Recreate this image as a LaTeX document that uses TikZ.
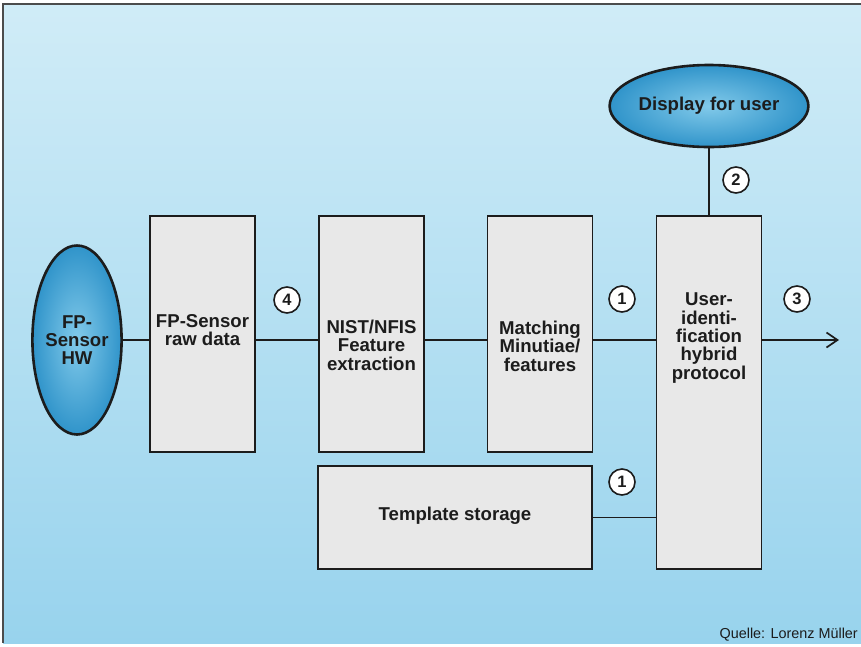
\documentclass[tikz,border=0pt]{standalone}
\usepackage{fontspec}
\setmainfont{Liberation Sans}
\usetikzlibrary{shapes.geometric,arrows.meta}

\definecolor{bgtop}{RGB}{208,236,247}
\definecolor{bgbottom}{RGB}{152,211,237}
\definecolor{boxgray}{RGB}{232,232,232}
\definecolor{ovalin}{RGB}{130,202,234}
\definecolor{ovalout}{RGB}{48,148,202}
\definecolor{inkline}{RGB}{28,28,28}

\begin{document}
\begin{tikzpicture}[
      x=1pt, y=-1pt,
      every node/.style={text=inkline},
      stage/.style={rectangle, draw=inkline, line width=1.5pt, fill=boxgray, minimum width=105pt, minimum height=236pt, inner sep=0pt},
      oval/.style={ellipse, draw=inkline, line width=2.6pt, inner color=ovalin, outer color=ovalout, inner sep=0pt, align=center, font=\bfseries\fontsize{18.6}{18.4}\selectfont},
      caption/.style={align=center, font=\bfseries\fontsize{18.6}{18.4}\selectfont},
      num/.style={circle, draw=inkline, line width=1.6pt, fill=white, inner sep=0pt, minimum size=26pt, font=\bfseries\fontsize{16.5}{16.5}\selectfont},
      wire/.style={draw=inkline, line width=1.7pt}
      ]

      \useasboundingbox (0,0) rectangle (861,646);
      \clip (0,0) rectangle (861,646);
      \shade[top color=bgtop, bottom color=bgbottom] (3,4) rectangle (861,643);
      \draw[line width=1.2pt, black!70] (861,4) -- (3,4) -- (3,643);

      \node[oval, minimum width=82pt, minimum height=189pt] (sensor) at (77,340) {FP-\\Sensor\\HW};
      \node[oval, minimum width=188pt, minimum height=82pt] (display) at (709,106) {Display for user};

      \node[stage] (rawdata) at (202.5,334) {};
      \node[stage] (nist) at (371.5,334) {};
      \node[stage] (matching) at (540,334) {};
      \node[stage, minimum height=353pt] (userid) at (709,392.5) {};
      \node[stage, minimum width=274pt, minimum height=103pt] (template) at (455,517.5) {};

      %box texts
      \node[caption] (rawtext) at (202.5,330) {FP-Sensor\\raw data};
      \node[caption] (nisttext) at (371.5,345) {NIST/NFIS\\Feature\\extraction};
      \node[caption] (matchtext) at (540,346) {Matching\\Minutiae/\\features};
      \node[caption] (useridtext) at (709,338) {User-\\identi-\\fication\\hybrid\\protocol};
      \node[caption] (templatetext) at (455,516) {Template storage};

      %main line
      \path[wire] (sensor.east) -- (sensor.east -| rawdata.west);
      \path[wire] (rawdata.east |- sensor) -- (nist.west |- sensor);
      \path[wire] (nist.east |- sensor) -- (matching.west |- sensor);
      \path[wire] (matching.east |- sensor) -- (userid.west |- sensor);
      \coordinate (exit) at (839,340);
      \path[wire, -{Straight Barb[length=11pt, width=15pt]}] (userid.east |- sensor) -- (exit);

      %side edges
      \path[wire] (display.south) -- (userid.north);
      \path[wire] (template.east) -- (template.east -| userid.west);

      %numbers
      \node[num] (numfour) at (287,300) {4};
      \node[num] (numonetop) at (622,299) {1};
      \node[num] (numthree) at (797,299) {3};
      \node[num] (numtwo) at (736,180) {2};
      \node[num] (numonelow) at (622,482) {1};

      \node[anchor=base east, inner sep=0pt, font=\fontsize{14.4}{14.4}\selectfont] (source) at (858,638) {Quelle: Lorenz Müller};
    \end{tikzpicture}
\end{document}
